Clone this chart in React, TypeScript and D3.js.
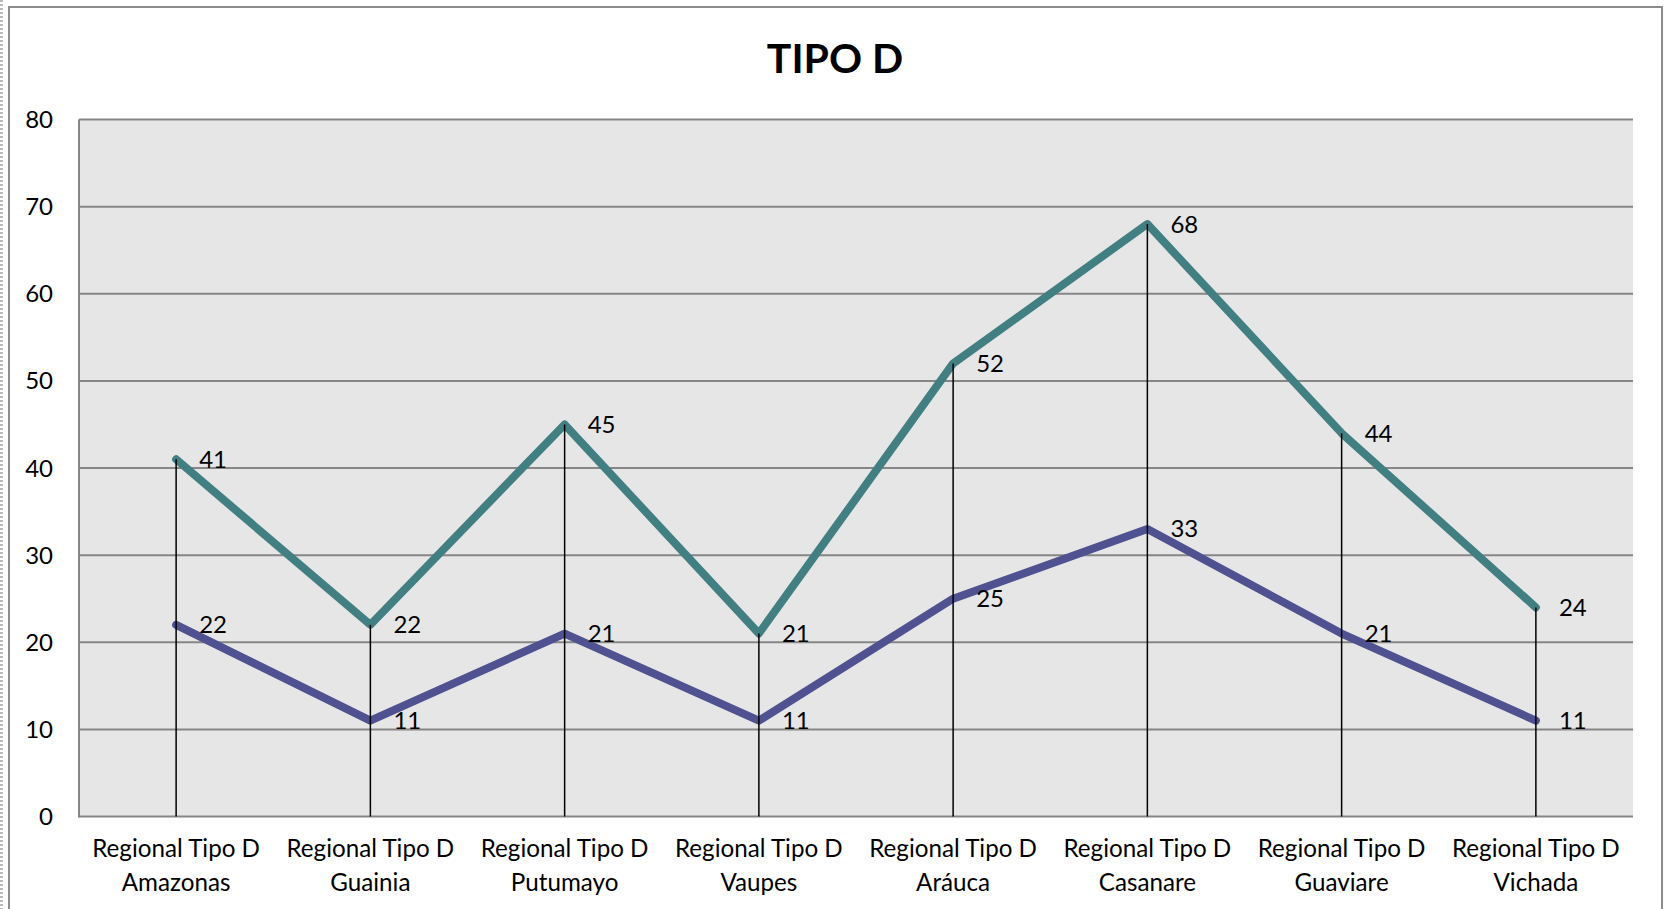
import React from "react";
import * as d3 from "d3";

const title = "TIPO D";
const categoriesLine1 = [
  "Regional Tipo D",
  "Regional Tipo D",
  "Regional Tipo D",
  "Regional Tipo D",
  "Regional Tipo D",
  "Regional Tipo D",
  "Regional Tipo D",
  "Regional Tipo D",
];
const categoriesLine2 = [
  "Amazonas",
  "Guainia",
  "Putumayo",
  "Vaupes",
  "Aráuca",
  "Casanare",
  "Guaviare",
  "Vichada",
];
const seriesTop = [41, 22, 45, 21, 52, 68, 44, 24];
const seriesBottom = [22, 11, 21, 11, 25, 33, 21, 11];
const yTicks = [0, 10, 20, 30, 40, 50, 60, 70, 80];

const W = 1666;
const H = 909;
const PL = 79;
const PR = 1633;
const PT = 119.5;
const PB = 816.5;
const FONT = "Lato, 'Open Sans', sans-serif";
const TEAL = "#427F83";
const PURPLE = "#4F5190";

export default function App() {
  const idx = categoriesLine2.map((_, i) => i);
  const x = d3.scaleBand<number>().domain(idx).range([PL, PR]).padding(0);
  const cx = (i: number) => (x(i) as number) + x.bandwidth() / 2;
  const y = d3.scaleLinear().domain([0, 80]).range([PB, PT]);
  const line = d3
    .line<number>()
    .x((_, i) => cx(i))
    .y((d) => y(d));

  return (
    <svg
      width={W}
      height={H}
      style={{ position: "absolute", left: 0, top: 0, background: "#fff" }}
    >
      <line x1={1.5} y1={0} x2={1.5} y2={H} stroke="#bbb" strokeWidth={3} strokeDasharray="2 2" />
      <rect x={9} y={7} width={1653} height={H + 20} fill="#fff" stroke="#8c8c8c" strokeWidth={2} />
      <text
        x={835}
        y={73}
        textAnchor="middle"
        fontFamily={FONT}
        fontWeight="bold"
        fontSize={41}
        fill="#000"
      >
        {title}
      </text>
      <rect x={PL} y={PT} width={PR - PL} height={PB - PT} fill="#e6e6e6" />
      {yTicks.map((t) => (
        <line key={"g" + t} x1={PL} x2={PR} y1={y(t)} y2={y(t)} stroke="#868686" strokeWidth={2} />
      ))}
      <line x1={PL} x2={PL} y1={PT} y2={PB + 1} stroke="#868686" strokeWidth={2} />
      {yTicks.map((t) => (
        <text
          key={"t" + t}
          x={53}
          y={y(t) + 8.5}
          textAnchor="end"
          fontFamily={FONT}
          fontSize={24}
          fill="#000"
        >
          {t}
        </text>
      ))}
      {idx.map((i) => (
        <text key={"c" + i} textAnchor="middle" fontFamily={FONT} fontSize={24.2} fill="#000">
          <tspan x={cx(i)} y={857}>
            {categoriesLine1[i]}
          </tspan>
          <tspan x={cx(i)} y={890.5}>
            {categoriesLine2[i]}
          </tspan>
        </text>
      ))}
      <path
        d={line(seriesBottom) || ""}
        fill="none"
        stroke={PURPLE}
        strokeWidth={8}
        strokeLinecap="round"
        strokeLinejoin="round"
      />
      <path
        d={line(seriesTop) || ""}
        fill="none"
        stroke={TEAL}
        strokeWidth={8}
        strokeLinecap="round"
        strokeLinejoin="round"
      />
      {idx.map((i) => (
        <line
          key={"d" + i}
          x1={cx(i)}
          x2={cx(i)}
          y1={y(Math.max(seriesTop[i], seriesBottom[i]))}
          y2={PB}
          stroke="#000"
          strokeWidth={1.5}
        />
      ))}
      {idx.map((i) => (
        <text
          key={"lt" + i}
          x={cx(i) + 23}
          y={y(seriesTop[i]) + 8.5}
          fontFamily={FONT}
          fontSize={24}
          fill="#000"
        >
          {seriesTop[i]}
        </text>
      ))}
      {idx.map((i) => (
        <text
          key={"lb" + i}
          x={cx(i) + 23}
          y={y(seriesBottom[i]) + 8.5}
          fontFamily={FONT}
          fontSize={24}
          fill="#000"
        >
          {seriesBottom[i]}
        </text>
      ))}
    </svg>
  );
}
